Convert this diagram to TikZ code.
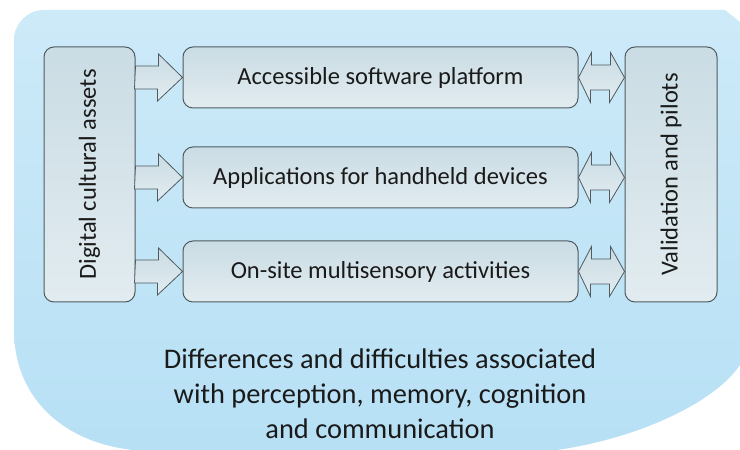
\documentclass[tikz,border=0pt]{standalone}
\usepackage{fontspec}
\setmainfont{Carlito}
\usetikzlibrary{calc}

\definecolor{bgtop}{HTML}{CDEAF8}
\definecolor{bgmid}{HTML}{F6FBFE}
\definecolor{bgbot}{HTML}{B7E0F5}
\definecolor{boxtop}{HTML}{CADCE4}
\definecolor{boxbot}{HTML}{E2ECF0}
\definecolor{boxline}{HTML}{4F5B60}
\definecolor{textgrey}{HTML}{1A1A1A}

\begin{document}
\begin{tikzpicture}[x=1pt,y=1pt,line join=miter]
   \useasboundingbox (0,0) rectangle (740,450);
   \tikzstyle{main}=[rounded corners=10pt, draw=boxline, line width=1pt, top color=boxtop, bottom color=boxbot, text=textgrey, font=\fontsize{24.5}{28}\selectfont, inner sep=0pt]
   \tikzstyle{blockarrow}=[draw=boxline, line width=0.8pt, top color=boxtop, bottom color=boxbot]
   % background
   \shade[top color=bgtop, middle color=bgmid, bottom color=bgbot]
      (14,120) -- (14,410) arc[start angle=180, end angle=90, radius=30] -- (725,440) -- (740,428)
      -- (740,85) .. controls (715,48) and (640,12) .. (557,0) -- (133,0)
      .. controls (60,8) and (14,55) .. (14,120) -- cycle;
   % boxes
   \node[main, minimum width=91, minimum height=255] (assets) at (89.5,275.5) {\rotatebox{90}{Digital cultural assets}};
   \node[main, minimum width=92, minimum height=255] (pilots) at (671,275.5) {\rotatebox{90}{Validation and pilots}};
   \node[main, minimum width=395, minimum height=61] (platform) at (380.5,372.5) {Accessible software platform};
   \node[main, minimum width=395, minimum height=61] (handheld) at (380.5,272.5) {Applications for handheld devices};
   \node[main, minimum width=395, minimum height=61] (onsite) at (380.5,178.5) {On-site multisensory activities};
   \foreach \b in {platform,handheld,onsite} {
       \draw[blockarrow] (assets.east |- \b.west) ++(0,11.5) -- ++(23,0) -- ++(0,12) -- (\b.west)
          -- ++(-25,-23.5) -- ++(0,12) -- ++(-23,0) -- cycle;
       \draw[blockarrow] (\b.east) -- ++(13,25) -- ++(0,-12.5) -- ++(19,0) -- ++(0,12.5)
          -- (pilots.west |- \b.east) -- ++(-15,-25) -- ++(0,12.5) -- ++(-19,0) -- ++(0,-12.5) -- cycle;
   }
   \node[align=center, text=textgrey, font=\fontsize{28.4}{35}\selectfont] (issues) at (380,56.5)
      {Differences and difficulties associated\\with perception, memory, cognition\\and communication};
\end{tikzpicture}
\end{document}
